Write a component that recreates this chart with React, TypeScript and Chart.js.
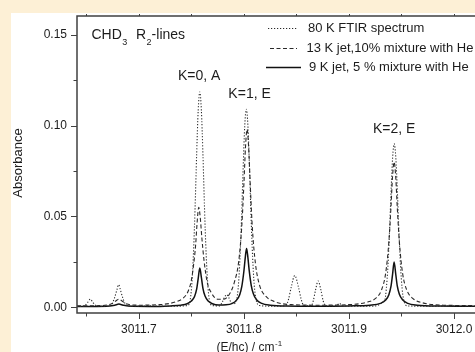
import React, { useEffect, useRef } from "react";
import { Chart, registerables } from "chart.js";

Chart.register(...registerables);

// ---------- data ----------
const SERIES_LABELS = [
  "80 K FTIR spectrum",
  "13 K jet,10% mixture with He",
  "9 K jet, 5 % mixture with He",
];

const FTIR_X = [
  3011.641, 3011.648, 3011.651, 3011.6538, 3011.6565, 3011.66, 3011.67, 3011.6745, 3011.677, 3011.679,
  3011.6807, 3011.6825, 3011.6845, 3011.687, 3011.692, 3011.71, 3011.73, 3011.746, 3011.749, 3011.7505,
  3011.752, 3011.7535, 3011.755, 3011.7565, 3011.758, 3011.7595, 3011.761, 3011.7625, 3011.764, 3011.7655,
  3011.767, 3011.77, 3011.777, 3011.7795, 3011.7815, 3011.7836, 3011.7855, 3011.7875, 3011.79, 3011.7933,
  3011.7948, 3011.7963, 3011.7978, 3011.7993, 3011.8008, 3011.8023, 3011.8038, 3011.8053, 3011.8068, 3011.8083,
  3011.8098, 3011.8113, 3011.815, 3011.83, 3011.84, 3011.8425, 3011.845, 3011.8484, 3011.852, 3011.8545,
  3011.857, 3011.864, 3011.866, 3011.868, 3011.8707, 3011.8735, 3011.8755, 3011.878, 3011.888, 3011.8909,
  3011.894, 3011.92, 3011.9341, 3011.9356, 3011.9371, 3011.9386, 3011.9401, 3011.9416, 3011.9431, 3011.9446,
  3011.9461, 3011.9476, 3011.9491, 3011.9506, 3011.9521, 3011.956, 3011.98, 3012.0, 3012.02,
];
const FTIR_Y = [
  0.0005, 0.0008, 0.0025, 0.0045, 0.0025, 0.0008, 0.0006, 0.002, 0.0055, 0.0095,
  0.0125, 0.0095, 0.0055, 0.002, 0.0006, 0.0008, 0.0006, 0.001, 0.0045, 0.0135,
  0.03, 0.0545, 0.084, 0.1085, 0.1185, 0.1085, 0.084, 0.0545, 0.03, 0.0135,
  0.0045, 0.001, 0.0008, 0.003, 0.0055, 0.007, 0.0055, 0.003, 0.002, 0.005,
  0.0125, 0.0275, 0.05, 0.077, 0.1, 0.109, 0.1, 0.077, 0.05, 0.0275,
  0.0125, 0.005, 0.001, 0.0006, 0.001, 0.0045, 0.011, 0.0175, 0.011, 0.0045,
  0.001, 0.0008, 0.0035, 0.009, 0.0145, 0.009, 0.0035, 0.0008, 0.0008, 0.0022,
  0.0008, 0.0006, 0.0041, 0.0104, 0.0226, 0.0414, 0.0637, 0.0825, 0.09, 0.0825,
  0.0637, 0.0414, 0.0226, 0.0104, 0.0041, 0.0008, 0.0006, 0.0008, 0.0006,
];

const JET13_X = [
  3011.641, 3011.665, 3011.674, 3011.678, 3011.681, 3011.684, 3011.688, 3011.7, 3011.72, 3011.735,
  3011.742, 3011.747, 3011.75, 3011.752, 3011.754, 3011.7555, 3011.757, 3011.7585, 3011.76, 3011.762,
  3011.765, 3011.769, 3011.775, 3011.781, 3011.787, 3011.791, 3011.795, 3011.798, 3011.8, 3011.8015,
  3011.803, 3011.8045, 3011.806, 3011.808, 3011.811, 3011.815, 3011.821, 3011.83, 3011.845, 3011.87,
  3011.9, 3011.918, 3011.925, 3011.931, 3011.935, 3011.938, 3011.94, 3011.9415, 3011.943, 3011.9445,
  3011.946, 3011.948, 3011.951, 3011.955, 3011.961, 3011.97, 3011.99, 3012.02,
];
const JET13_Y = [
  0.0008, 0.001, 0.002, 0.0035, 0.0045, 0.0035, 0.002, 0.0012, 0.0015, 0.003,
  0.005, 0.009, 0.015, 0.023, 0.034, 0.047, 0.055, 0.049, 0.038, 0.026,
  0.014, 0.008, 0.0045, 0.0045, 0.008, 0.014, 0.025, 0.045, 0.068, 0.088,
  0.098, 0.088, 0.068, 0.044, 0.024, 0.012, 0.006, 0.003, 0.0015, 0.0012,
  0.0015, 0.003, 0.0048, 0.0096, 0.019, 0.036, 0.055, 0.072, 0.08, 0.072,
  0.055, 0.036, 0.019, 0.0096, 0.0048, 0.0025, 0.0012, 0.001,
];

const JET9_X = [
  3011.641, 3011.66, 3011.672, 3011.677, 3011.681, 3011.685, 3011.69, 3011.71, 3011.73, 3011.74,
  3011.746, 3011.75, 3011.753, 3011.755, 3011.7565, 3011.758, 3011.7595, 3011.761, 3011.763, 3011.766,
  3011.77, 3011.776, 3011.783, 3011.789, 3011.793, 3011.796, 3011.798, 3011.8, 3011.8015, 3011.8025,
  3011.8035, 3011.805, 3011.807, 3011.809, 3011.812, 3011.817, 3011.825, 3011.84, 3011.87, 3011.9,
  3011.92, 3011.93, 3011.935, 3011.938, 3011.94, 3011.9415, 3011.943, 3011.9445, 3011.946, 3011.948,
  3011.951, 3011.956, 3011.965, 3011.985, 3012.02,
];
const JET9_Y = [
  0.0005, 0.0005, 0.0007, 0.0012, 0.0018, 0.0012, 0.0007, 0.0005, 0.0008, 0.0012,
  0.002, 0.0035, 0.006, 0.01, 0.016, 0.0216, 0.0165, 0.0105, 0.0062, 0.0035,
  0.002, 0.0013, 0.0014, 0.0022, 0.004, 0.007, 0.0115, 0.02, 0.0285, 0.0324,
  0.029, 0.0205, 0.012, 0.0075, 0.0042, 0.0022, 0.0012, 0.0007, 0.0006, 0.0008,
  0.0012, 0.0022, 0.004, 0.007, 0.0115, 0.018, 0.025, 0.0185, 0.0118, 0.0072,
  0.0042, 0.0022, 0.0012, 0.0007, 0.0006,
];

const X_TICKS = [3011.65, 3011.7, 3011.75, 3011.8, 3011.85, 3011.9, 3011.95, 3012.0];
const Y_TICKS = [0, 0.025, 0.05, 0.075, 0.1, 0.125, 0.15];

const PEAK_LABELS = ["K=0, A", "K=1, E", "K=2, E"];
const PEAK_LABEL_X = [3011.7574, 3011.8054, 3011.943];
const PEAK_LABEL_Y = [0.1274, 0.1174, 0.0981];

// ---------- style ----------
const X_MIN = 3011.6411;
const X_MAX = 3012.02;
const Y_MIN = -0.0031;
const Y_MAX = 0.1603;
const FONT = "'Liberation Sans', Arial, Helvetica, sans-serif";
const TEXT = "#1c1c1c";
const AXIS = "#404040";
const BEIGE = "#fdf0d6";

const isMajorX = (v: number) => Math.abs(v * 10 - Math.round(v * 10)) < 1e-6;
const isMajorY = (v: number) => Math.abs(v * 20 - Math.round(v * 20)) < 1e-6;

const DASHES = [[1.2, 1.8], [4, 2.5], []];
const WIDTHS = [1.1, 1.1, 1.5];
const COLORS = ["#2a2a2a", "#2a2a2a", "#111111"];

const decor = {
  id: "decor",
  afterDraw(chart: any) {
    const { ctx, chartArea: a, scales } = chart;
    const xs = scales.x;
    const ys = scales.y;
    ctx.save();
    // frame
    ctx.strokeStyle = AXIS;
    ctx.lineWidth = 1.5;
    ctx.setLineDash([]);
    ctx.beginPath();
    ctx.moveTo(a.right + 2, a.top);
    ctx.lineTo(a.left, a.top);
    ctx.lineTo(a.left, a.bottom);
    ctx.lineTo(a.right + 2, a.bottom);
    ctx.stroke();
    // ticks
    ctx.lineWidth = 1;
    xs.ticks.forEach((t: any) => {
      const px = Math.round(xs.getPixelForValue(t.value)) + 0.5;
      const maj = isMajorX(t.value);
      ctx.beginPath();
      ctx.moveTo(px, a.bottom);
      ctx.lineTo(px, a.bottom + (maj ? 6 : 3.5));
      ctx.moveTo(px, a.top);
      ctx.lineTo(px, a.top - 2);
      ctx.stroke();
    });
    ys.ticks.forEach((t: any) => {
      const py = Math.round(ys.getPixelForValue(t.value)) + 0.5;
      const maj = isMajorY(t.value);
      ctx.beginPath();
      ctx.moveTo(a.left, py);
      ctx.lineTo(a.left - (maj ? 6 : 3.5), py);
      ctx.stroke();
    });

    ctx.fillStyle = TEXT;
    // CHD3 R2-lines
    ctx.textBaseline = "alphabetic";
    ctx.textAlign = "left";
    let x = 91.5;
    ctx.font = `14px ${FONT}`;
    ctx.fillText("CHD", x, 38.5);
    x += ctx.measureText("CHD").width + 0.5;
    ctx.font = `9px ${FONT}`;
    ctx.fillText("3", x, 44.5);
    x = 136;
    ctx.font = `14px ${FONT}`;
    ctx.fillText("R", x, 38.5);
    x += ctx.measureText("R").width + 0.5;
    ctx.font = `9px ${FONT}`;
    ctx.fillText("2", x, 44.5);
    x += ctx.measureText("2").width;
    ctx.font = `14px ${FONT}`;
    ctx.fillText("-lines", x, 38.5);

    // peak labels
    ctx.font = `14px ${FONT}`;
    ctx.textAlign = "center";
    ctx.textBaseline = "middle";
    PEAK_LABELS.forEach((s, i) => {
      ctx.fillText(s, xs.getPixelForValue(PEAK_LABEL_X[i]), ys.getPixelForValue(PEAK_LABEL_Y[i]));
    });

    // legend
    const rows = [
      { y: 28, x0: 268, x1: 298, tx: 308 },
      { y: 48, x0: 270, x1: 297, tx: 306.5 },
      { y: 67, x0: 266, x1: 301, tx: 309 },
    ];
    rows.forEach((r, i) => {
      ctx.strokeStyle = COLORS[i];
      ctx.lineWidth = WIDTHS[i];
      ctx.setLineDash(DASHES[i]);
      ctx.beginPath();
      ctx.moveTo(r.x0, r.y + 0.5);
      ctx.lineTo(r.x1, r.y + 0.5);
      ctx.stroke();
      ctx.setLineDash([]);
      ctx.font = `13px ${FONT}`;
      ctx.textAlign = "left";
      ctx.textBaseline = "middle";
      ctx.fillText(SERIES_LABELS[i], r.tx, r.y + 0.5);
    });

    // axis titles
    ctx.save();
    ctx.translate(18, 163);
    ctx.rotate(-Math.PI / 2);
    ctx.font = `13px ${FONT}`;
    ctx.textAlign = "center";
    ctx.textBaseline = "middle";
    ctx.fillText("Absorbance", 0, 0);
    ctx.restore();

    ctx.textAlign = "left";
    ctx.textBaseline = "alphabetic";
    ctx.font = `12px ${FONT}`;
    const main = "(E/hc) / cm";
    ctx.fillText(main, 216.5, 351);
    const w = ctx.measureText(main).width;
    ctx.font = `8px ${FONT}`;
    ctx.fillText("-1", 216.5 + w + 0.5, 346);
    ctx.restore();
  },
};

function pts(xs: number[], ys: number[]) {
  return xs.map((x, i) => ({ x, y: ys[i] }));
}

export default function App() {
  const ref = useRef<HTMLCanvasElement>(null);

  useEffect(() => {
    const series = [pts(FTIR_X, FTIR_Y), pts(JET13_X, JET13_Y), pts(JET9_X, JET9_Y)];
    const chart = new Chart(ref.current as HTMLCanvasElement, {
      type: "line",
      data: {
        datasets: series.map((d, i) => ({
          label: SERIES_LABELS[i],
          data: d,
          borderColor: COLORS[i],
          borderWidth: WIDTHS[i],
          borderDash: DASHES[i],
          pointRadius: 0,
          fill: false,
          cubicInterpolationMode: "monotone" as const,
        })),
      },
      options: {
        animation: false,
        responsive: false,
        devicePixelRatio: 1,
        layout: { padding: { left: 0, right: 0, top: 16, bottom: 0 } },
        plugins: { legend: { display: false }, tooltip: { enabled: false } },
        scales: {
          x: {
            type: "linear",
            min: X_MIN,
            max: X_MAX,
            grid: { display: false, drawTicks: false },
            border: { display: false },
            afterBuildTicks: (s: any) => {
              s.ticks = X_TICKS.map((v) => ({ value: v }));
            },
            afterFit: (s: any) => {
              s.height = 39;
              s.paddingLeft = 0;
              s.paddingRight = 0;
            },
            ticks: {
              padding: 9,
              autoSkip: false,
              maxRotation: 0,
              color: TEXT,
              font: { family: FONT, size: 12 },
              callback: (v: any) => (isMajorX(Number(v)) ? Number(v).toFixed(1) : ""),
            },
          },
          y: {
            type: "linear",
            min: Y_MIN,
            max: Y_MAX,
            grid: { display: false, drawTicks: false },
            border: { display: false },
            afterBuildTicks: (s: any) => {
              s.ticks = Y_TICKS.map((v) => ({ value: v }));
            },
            afterFit: (s: any) => {
              s.width = 77;
              s.paddingTop = 0;
              s.paddingBottom = 0;
            },
            ticks: {
              padding: 10,
              autoSkip: false,
              color: TEXT,
              font: { family: FONT, size: 12 },
              callback: (v: any) => (isMajorY(Number(v)) ? Number(v).toFixed(2) : ""),
            },
          },
        },
      },
      plugins: [decor],
    } as any);
    return () => chart.destroy();
  }, []);

  return (
    <div
      style={{
        position: "fixed",
        left: 0,
        top: 0,
        width: 475,
        height: 352,
        background: BEIGE,
        overflow: "hidden",
      }}
    >
      <div style={{ position: "absolute", left: 11, top: 13, right: 0, bottom: 0, background: "#ffffff" }} />
      <canvas
        ref={ref}
        width={475}
        height={352}
        style={{ position: "absolute", left: 0, top: 0, width: 475, height: 352 }}
      />
    </div>
  );
}
